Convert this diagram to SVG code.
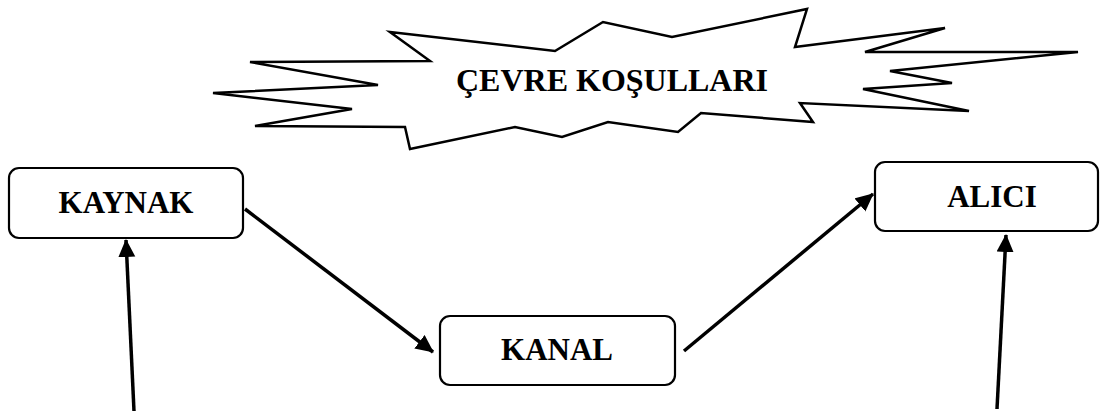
<svg xmlns="http://www.w3.org/2000/svg" width="1102" height="417" viewBox="0 0 1102 417">
<style>
.box{fill:#fff;stroke:#000;stroke-width:2.2}
.lbl{font-family:"Liberation Serif","Times New Roman",serif;font-weight:bold;font-size:31px;fill:#000;text-anchor:middle}
.conn{stroke:#000;stroke-width:3.5;fill:none;marker-end:url(#ah)}
</style>
<defs>
<marker id="ah" markerUnits="userSpaceOnUse" markerWidth="18" markerHeight="18" refX="17" refY="8.5" orient="auto">
<path d="M0,0 L18,8.5 L0,17 z" fill="#000"/>
</marker>
</defs>
<rect width="1102" height="417" fill="#fff"/>
<g id="cevre">
<path d="M390,32 L555,51 L603,22 L672,37 L807,9 L795,47 L945,28 L865,52 L1078,52 L890,71 L952,83 L863,89 L969,111 L800,103 L813,122 L701,113 L678,132 L608,122 L562,137 L515,127 L410,149 L405,127 L255,126 L352,109 L213,93 L378,85 L250,62 L430,61 Z" fill="#fff" stroke="#000" stroke-width="2.5" stroke-linejoin="miter"/>
<text class="lbl" x="612" y="91" style="font-size:32px">ÇEVRE KOŞULLARI</text>
</g>
<g id="kaynak">
<rect class="box" x="9" y="168" width="234" height="70" rx="10"/>
<text class="lbl" x="126" y="213">KAYNAK</text>
</g>
<g id="kanal">
<rect class="box" x="440" y="316" width="235" height="69" rx="10"/>
<text class="lbl" x="557" y="360">KANAL</text>
</g>
<g id="alici">
<rect class="box" x="875" y="162" width="223" height="69" rx="10"/>
<text class="lbl" x="992" y="207">ALICI</text>
</g>
<g id="connectors">
<line class="conn" x1="245" y1="209" x2="433" y2="352"/>
<line class="conn" x1="684" y1="351" x2="873" y2="194"/>
<line class="conn" x1="134" y1="411" x2="126" y2="240"/>
<line class="conn" x1="997" y1="409" x2="1006" y2="235"/>
</g>
</svg>
